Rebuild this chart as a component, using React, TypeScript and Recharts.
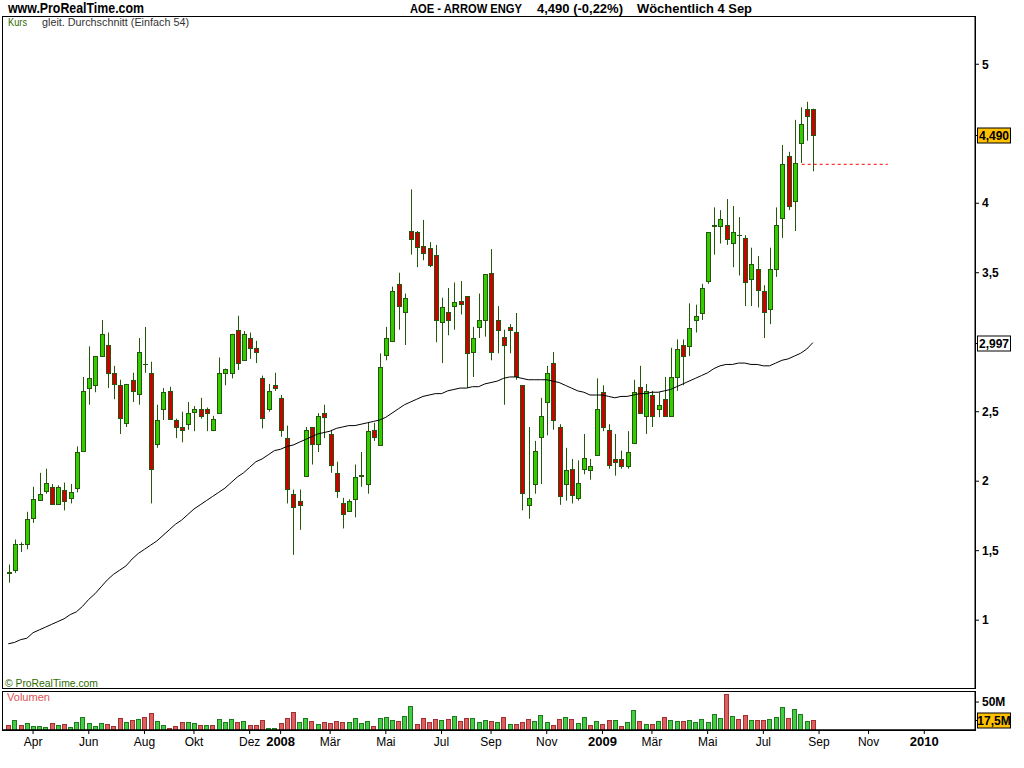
import React from "react";
import { ComposedChart, Bar, Line, XAxis, YAxis, ReferenceLine } from "recharts";

// weekly candles, first week = Mon 5 Mar 2007, index 0..130
const OPEN = [
  1.35, 1.36, 1.55, 1.55, 1.73, 1.87, 1.93, 1.96, 1.84, 1.94,
  1.88, 1.95, 2.22, 2.67, 2.69, 2.90, 2.98, 2.78, 2.69, 2.42,
  2.73, 2.63, 2.84, 2.78, 2.27, 2.52, 2.65, 2.44, 2.39, 2.41,
  2.50, 2.52, 2.52, 2.37, 2.49, 2.78, 2.78, 3.09, 2.87, 3.03,
  2.96, 2.74, 2.52, 2.69, 2.60, 2.31, 1.91, 1.86, 2.04, 2.39,
  2.27, 2.49, 2.34, 2.06, 1.84, 1.79, 1.87, 2.04, 1.98, 2.37,
  2.26, 2.91, 3.01, 3.42, 3.22, 3.80, 3.79, 3.69, 3.68, 3.63,
  3.14, 3.22, 3.26, 3.30, 3.33, 2.93, 3.11, 3.16, 3.50, 3.16,
  3.04, 3.11, 3.07, 2.69, 1.83, 1.98, 2.32, 2.57, 2.85, 2.39,
  1.98, 2.09, 1.88, 2.09, 2.08, 2.19, 2.64, 2.37, 2.16, 2.16,
  2.11, 2.27, 2.68, 2.47, 2.62, 2.52, 2.59, 2.47, 2.75, 2.98,
  2.97, 3.16, 3.21, 3.44, 3.84, 3.84, 3.84, 3.71, 3.77, 3.75,
  3.45, 3.53, 3.37, 3.24, 3.52, 3.89, 4.34, 4.02, 4.43, 4.68,
  4.68,
];
const HIGH = [
  1.40, 1.58, 1.56, 1.78, 1.96, 2.06, 2.09, 1.98, 1.97, 1.99,
  1.98, 2.25, 2.75, 2.97, 2.90, 3.16, 3.07, 2.83, 2.73, 2.70,
  2.78, 3.03, 3.11, 2.86, 2.55, 2.67, 2.68, 2.45, 2.50, 2.57,
  2.54, 2.60, 2.53, 2.47, 2.89, 2.81, 3.06, 3.19, 3.08, 3.07,
  3.01, 2.76, 2.70, 2.78, 2.62, 2.40, 1.94, 1.94, 2.39, 2.39,
  2.49, 2.55, 2.37, 2.14, 1.88, 1.87, 2.12, 2.21, 2.42, 2.42,
  2.92, 3.11, 3.40, 3.50, 3.35, 4.10, 3.80, 3.88, 3.72, 3.70,
  3.32, 3.39, 3.43, 3.44, 3.33, 3.11, 3.35, 3.49, 3.67, 3.26,
  3.09, 3.13, 3.21, 2.69, 2.39, 2.29, 2.60, 2.83, 2.93, 2.41,
  2.24, 2.16, 2.15, 2.34, 2.16, 2.74, 2.69, 2.41, 2.34, 2.22,
  2.36, 2.73, 2.83, 2.70, 2.65, 2.64, 2.75, 2.96, 3.02, 3.02,
  3.28, 3.27, 3.42, 3.79, 3.97, 3.95, 4.03, 3.98, 3.90, 3.77,
  3.68, 3.62, 3.41, 3.68, 3.97, 4.42, 4.37, 4.60, 4.69, 4.73,
  4.68,
];
const LOW = [
  1.27, 1.34, 1.49, 1.51, 1.70, 1.87, 1.91, 1.84, 1.84, 1.79,
  1.84, 1.92, 2.22, 2.55, 2.64, 2.90, 2.67, 2.59, 2.34, 2.39,
  2.57, 2.55, 2.78, 1.84, 2.24, 2.44, 2.44, 2.31, 2.28, 2.37,
  2.36, 2.45, 2.36, 2.36, 2.49, 2.69, 2.74, 2.80, 2.87, 2.88,
  2.85, 2.38, 2.50, 2.65, 2.32, 1.84, 1.47, 1.65, 2.04, 2.12,
  2.21, 2.31, 2.06, 1.88, 1.66, 1.78, 1.74, 1.96, 1.91, 2.29,
  2.26, 2.87, 3.01, 3.09, 2.98, 3.63, 3.54, 3.59, 3.54, 3.00,
  2.85, 3.05, 3.09, 3.20, 2.67, 2.75, 3.03, 3.04, 2.87, 2.92,
  2.55, 2.92, 2.73, 1.79, 1.73, 1.91, 1.98, 2.33, 2.37, 1.83,
  1.86, 1.84, 1.86, 2.05, 2.01, 2.19, 2.36, 2.09, 2.04, 2.09,
  2.09, 2.27, 2.49, 2.34, 2.39, 2.46, 2.47, 2.47, 2.65, 2.69,
  2.90, 3.07, 3.16, 3.42, 3.63, 3.71, 3.70, 3.54, 3.48, 3.26,
  3.26, 3.25, 3.03, 3.13, 3.47, 3.75, 3.95, 3.80, 4.29, 4.45,
  4.23,
];
const CLOSE = [
  1.34, 1.55, 1.548, 1.73, 1.87, 1.91, 1.99, 1.84, 1.96, 1.86,
  1.92, 2.21, 2.65, 2.74, 2.90, 3.06, 2.78, 2.70, 2.45, 2.70,
  2.65, 2.93, 2.84, 2.09, 2.44, 2.64, 2.45, 2.39, 2.37, 2.49,
  2.52, 2.47, 2.49, 2.45, 2.78, 2.81, 3.06, 2.85, 3.06, 2.96,
  2.93, 2.45, 2.65, 2.67, 2.37, 1.94, 1.82, 1.83, 2.37, 2.27,
  2.47, 2.46, 2.12, 1.93, 1.76, 1.86, 2.03, 2.045, 2.36, 2.32,
  2.82, 3.03, 3.37, 3.26, 3.32, 3.74, 3.68, 3.64, 3.56, 3.16,
  3.25, 3.16, 3.29, 3.28, 2.92, 3.03, 3.16, 3.49, 2.93, 3.09,
  2.98, 3.09, 2.75, 1.91, 1.88, 2.22, 2.47, 2.78, 2.44, 1.89,
  2.08, 1.90, 1.99, 2.17, 2.11, 2.52, 2.39, 2.12, 2.14, 2.11,
  2.21, 2.64, 2.49, 2.65, 2.47, 2.55, 2.47, 2.75, 2.95, 2.90,
  3.10, 3.19, 3.39, 3.79, 3.83, 3.89, 3.74, 3.79, 3.77, 3.43,
  3.56, 3.38, 3.22, 3.53, 3.84, 4.28, 3.98, 4.29, 4.57, 4.63,
  4.49,
];
// volume in millions
const VOLUME = [
  8.9, 17.3, 8.9, 12.5, 7.1, 7.1, 5.4, 12.5, 8.9, 10.7,
  5.4, 14.3, 23.2, 12.5, 7.1, 12.5, 10.7, 7.1, 21.4, 14.3,
  17.9, 19.6, 23.2, 30.4, 16.1, 8.9, 3.6, 7.1, 14.3, 14.3,
  12.5, 8.9, 8.9, 8.9, 19.6, 14.3, 19.6, 14.3, 16.1, 8.9,
  8.9, 17.9, 3.6, 3.6, 12.5, 21.4, 32.1, 14.3, 21.4, 16.1,
  10.7, 14.3, 12.5, 16.1, 14.3, 14.3, 21.4, 12.5, 16.1, 7.1,
  21.4, 23.2, 17.9, 16.1, 25.0, 42.9, 10.7, 21.4, 14.3, 19.6,
  17.9, 19.6, 25.0, 16.1, 21.4, 21.4, 14.3, 17.9, 16.1, 14.3,
  23.2, 10.7, 10.7, 14.3, 19.6, 16.1, 26.8, 14.3, 8.9, 19.6,
  23.2, 19.6, 12.5, 23.2, 8.9, 16.1, 10.7, 17.9, 17.9, 7.1,
  14.3, 35.7, 16.1, 10.7, 10.7, 16.1, 23.2, 17.9, 16.1, 16.1,
  17.9, 14.3, 19.6, 14.3, 28.6, 21.4, 64.3, 25.0, 19.6, 26.8,
  17.9, 17.9, 17.9, 19.6, 23.2, 41.1, 21.4, 37.5, 28.6, 16.1,
  17.5,
];
// gleit. Durchschnitt (Einfach 54)
const SMA54 = [
  0.83, 0.84, 0.86, 0.87, 0.91, 0.93, 0.95, 0.97, 0.99, 1.01,
  1.04, 1.06, 1.10, 1.15, 1.19, 1.24, 1.29, 1.33, 1.36, 1.39,
  1.44, 1.48, 1.51, 1.54, 1.57, 1.61, 1.65, 1.69, 1.72, 1.76,
  1.80, 1.83, 1.86, 1.89, 1.92, 1.95, 1.99, 2.03, 2.06, 2.10,
  2.14, 2.16, 2.19, 2.22, 2.23, 2.25, 2.26, 2.28, 2.30, 2.32,
  2.34, 2.35, 2.36, 2.38, 2.39, 2.40, 2.40, 2.41, 2.42, 2.43,
  2.44, 2.46, 2.49, 2.52, 2.55, 2.57, 2.59, 2.61, 2.62, 2.63,
  2.63, 2.65, 2.66, 2.67, 2.67, 2.68, 2.68, 2.70, 2.71, 2.72,
  2.74, 2.75, 2.75, 2.74, 2.73, 2.73, 2.73, 2.73, 2.72, 2.71,
  2.69, 2.67, 2.65, 2.64, 2.62, 2.62, 2.62, 2.61, 2.60, 2.61,
  2.61, 2.62, 2.63, 2.63, 2.64, 2.64, 2.65, 2.66, 2.68, 2.70,
  2.72, 2.74, 2.76, 2.78, 2.81, 2.83, 2.84, 2.84, 2.85, 2.85,
  2.84, 2.84, 2.83, 2.83, 2.85, 2.87, 2.88, 2.90, 2.92, 2.95,
  2.997,
];

// x axis: first week of every second month (week index)
const TICK_INDEX = [4, 13, 22, 30, 39, 44, 52, 61, 70, 78, 87, 96, 104, 113, 122, 131, 139, 148];
const TICK_LABEL = ["Apr", "Jun", "Aug", "Okt", "Dez", "2008", "Mär", "Mai", "Jul", "Sep", "Nov", "2009", "Mär", "Mai", "Jul", "Sep", "Nov", "2010"];
const PRICE_TICKS = [1, 1.5, 2, 2.5, 3.5, 4, 5];
const LAST_PRICE = 4.49;
const LAST_SMA = 2.997;
const LAST_VOLUME = 17.5;
const DASH_LEVEL = 4.28;

const X_DOMAIN = [-0.86, 156.2];
const WICK = "#24560c";
const UP = "#33cc00";
const DOWN = "#cc0000";
const FONT = '"Liberation Sans", Arial, sans-serif';

const rows = OPEN.map((o, i) => ({
  i,
  o,
  h: HIGH[i],
  l: LOW[i],
  c: CLOSE[i],
  vol: VOLUME[i],
  sma: SMA54[i],
  volUp: i === 0 ? CLOSE[0] >= o : CLOSE[i] >= CLOSE[i - 1],
}));

function Candle(props: any) {
  const { x, y, width, height, payload } = props;
  if (!payload || payload.h == null) return null;
  const cx = Math.round(x + width / 2) + 0.5;
  const top = Math.min(y, y + height);
  const span = Math.abs(height);
  const range = payload.h - payload.l || 1;
  const yOf = (v: number) => top + ((payload.h - v) / range) * span;
  const yo = yOf(payload.o);
  const yc = yOf(payload.c);
  const bTop = Math.round(Math.min(yo, yc)) + 0.5;
  const bH = Math.round(Math.abs(yo - yc));
  const up = payload.c >= payload.o;
  return (
    <g>
      <line x1={cx} x2={cx} y1={top} y2={top + span} stroke={WICK} strokeWidth={1} />
      {bH < 1 ? (
        <line x1={cx - 2.5} x2={cx + 2.5} y1={bTop} y2={bTop} stroke={WICK} strokeWidth={1} />
      ) : (
        <rect x={cx - 2} y={bTop} width={4} height={bH} fill={up ? UP : DOWN} stroke={WICK} strokeWidth={1} />
      )}
    </g>
  );
}

function VolBar(props: any) {
  const { x, y, width, height, payload } = props;
  if (!payload || !height) return null;
  const cx = Math.round(x + width / 2) + 0.5;
  const top = Math.round(Math.min(y, y + height)) + 0.5;
  const h = Math.round(Math.abs(height));
  return (
    <rect
      x={cx - 2}
      y={top}
      width={4}
      height={h}
      fill={payload.volUp ? "#44cc44" : "#dd6060"}
      stroke={payload.volUp ? "#1f7a1f" : "#a33030"}
      strokeWidth={1}
    />
  );
}

function Badge({ viewBox, text, fill }: any) {
  if (!viewBox) return null;
  const ax = viewBox.x + viewBox.width;
  const cy = Math.round(viewBox.y) + 0.5;
  return (
    <g>
      <line x1={ax} x2={ax + 4} y1={cy} y2={cy} stroke="#000" />
      <rect x={ax + 2.5} y={cy - 7.5} width={33} height={15} fill={fill} stroke="#000" />
      <text x={ax + 19} y={cy} dy="0.36em" textAnchor="middle" fontSize={12} fontWeight="bold" fill="#000" fontFamily={FONT}>
        {text}
      </text>
    </g>
  );
}

function MonthTick(props: any) {
  const { x, y, payload, index } = props;
  const label = TICK_LABEL[TICK_INDEX.indexOf(payload.value)] ?? "";
  const year = /^\d{4}$/.test(label);
  return (
    <text x={x} y={y} dy="0.71em" textAnchor="middle" fontFamily={FONT} fontSize={year ? 13 : 12} fontWeight={year ? "bold" : "normal"} fill="#000" key={index}>
      {label}
    </text>
  );
}

const fmtPrice = (v: number) => String(v).replace(".", ",");

export default function App() {
  return (
    <div style={{ position: "absolute", left: 0, top: 0, width: 1024, height: 768, background: "#fff", fontFamily: FONT, overflow: "hidden" }}>
      {/* panel frames */}
      <div style={{ position: "absolute", left: 2, top: 16, width: 972, height: 671, border: "1px solid #000" }} />
      <div style={{ position: "absolute", left: 2, top: 691, width: 972, height: 38, border: "1px solid #000" }} />

      {/* header and panel captions */}
      <svg width={1024} height={768} style={{ position: "absolute", left: 0, top: 0 }} fontFamily={FONT}>
        <text x={8} y={13} fontSize={14} fontWeight="bold" textLength={136} lengthAdjust="spacingAndGlyphs">www.ProRealTime.com</text>
        <text x={410} y={13} fontSize={13} fontWeight="bold" textLength={112} lengthAdjust="spacingAndGlyphs">AOE - ARROW ENGY</text>
        <text x={537} y={13} fontSize={13} fontWeight="bold" textLength={86} lengthAdjust="spacingAndGlyphs">4,490 (-0,22%)</text>
        <text x={637} y={13} fontSize={13} fontWeight="bold" textLength={115} lengthAdjust="spacingAndGlyphs">Wöchentlich  4 Sep</text>
        <text x={8} y={26} fontSize={10} fill="#2e6b00" textLength={19} lengthAdjust="spacingAndGlyphs">Kurs</text>
        <text x={42} y={26} fontSize={10} fill="#333" textLength={147} lengthAdjust="spacingAndGlyphs">gleit. Durchschnitt (Einfach 54)</text>
        <text x={5} y={687} fontSize={11} fill="#2e6b00" textLength={93} lengthAdjust="spacingAndGlyphs">© ProRealTime.com</text>
        <text x={7} y={701} fontSize={10} fill="#dd5555" textLength={43} lengthAdjust="spacingAndGlyphs">Volumen</text>
      </svg>

      {/* price panel */}
      <div style={{ position: "absolute", left: 0, top: 0 }}>
        <ComposedChart width={1024} height={768} data={rows} margin={{ top: 17, right: 0, bottom: 80, left: 3 }}>
          <XAxis type="number" dataKey="i" domain={X_DOMAIN} allowDataOverflow hide />
          <YAxis
            orientation="right"
            width={49}
            domain={[0.512, 5.34]}
            allowDataOverflow
            ticks={PRICE_TICKS}
            tickFormatter={fmtPrice}
            tickSize={4}
            tickMargin={3}
            axisLine={{ stroke: "#000" }}
            tickLine={{ stroke: "#000" }}
            tick={{ fill: "#000", fontSize: 12, fontWeight: "bold", fontFamily: FONT, textAnchor: "start" }}
          />
          <Bar dataKey={(d: any) => [d.l, d.h]} barSize={5} shape={Candle} isAnimationActive={false} />
          <Line type="linear" dataKey="sma" stroke="#000" strokeWidth={1} dot={false} isAnimationActive={false} />
          <ReferenceLine
            segment={[{ x: 128.2, y: DASH_LEVEL }, { x: 142.1, y: DASH_LEVEL }]}
            stroke="#ff0000"
            strokeDasharray="3 3"
          />
          <ReferenceLine y={LAST_PRICE} stroke="none" label={(p: any) => <Badge viewBox={p.viewBox} text="4,490" fill="#ffc000" />} />
          <ReferenceLine y={LAST_SMA} stroke="none" label={(p: any) => <Badge viewBox={p.viewBox} text="2,997" fill="#ffffff" />} />
        </ComposedChart>
      </div>

      {/* volume panel */}
      <div style={{ position: "absolute", left: 0, top: 0 }}>
        <ComposedChart width={1024} height={768} data={rows} margin={{ top: 692, right: 0, bottom: 0, left: 3 }}>
          <XAxis
            type="number"
            dataKey="i"
            domain={X_DOMAIN}
            allowDataOverflow
            ticks={TICK_INDEX}
            interval={0}
            height={38}
            tickSize={4}
            tickMargin={3}
            axisLine={{ stroke: "#000", strokeWidth: 1.5 }}
            tickLine={{ stroke: "#000" }}
            tick={<MonthTick />}
          />
          <YAxis
            orientation="right"
            width={49}
            domain={[0, 68]}
            allowDataOverflow
            ticks={[50]}
            tickFormatter={(v: number) => `${v}M`}
            tickSize={4}
            tickMargin={3}
            axisLine={{ stroke: "#000" }}
            tickLine={{ stroke: "#000" }}
            tick={{ fill: "#000", fontSize: 12, fontWeight: "bold", fontFamily: FONT, textAnchor: "start" }}
          />
          <Bar dataKey="vol" barSize={4} shape={VolBar} isAnimationActive={false} />
          <ReferenceLine y={LAST_VOLUME} stroke="none" label={(p: any) => <Badge viewBox={p.viewBox} text="17,5M" fill="#ffc000" />} />
        </ComposedChart>
      </div>
    </div>
  );
}
